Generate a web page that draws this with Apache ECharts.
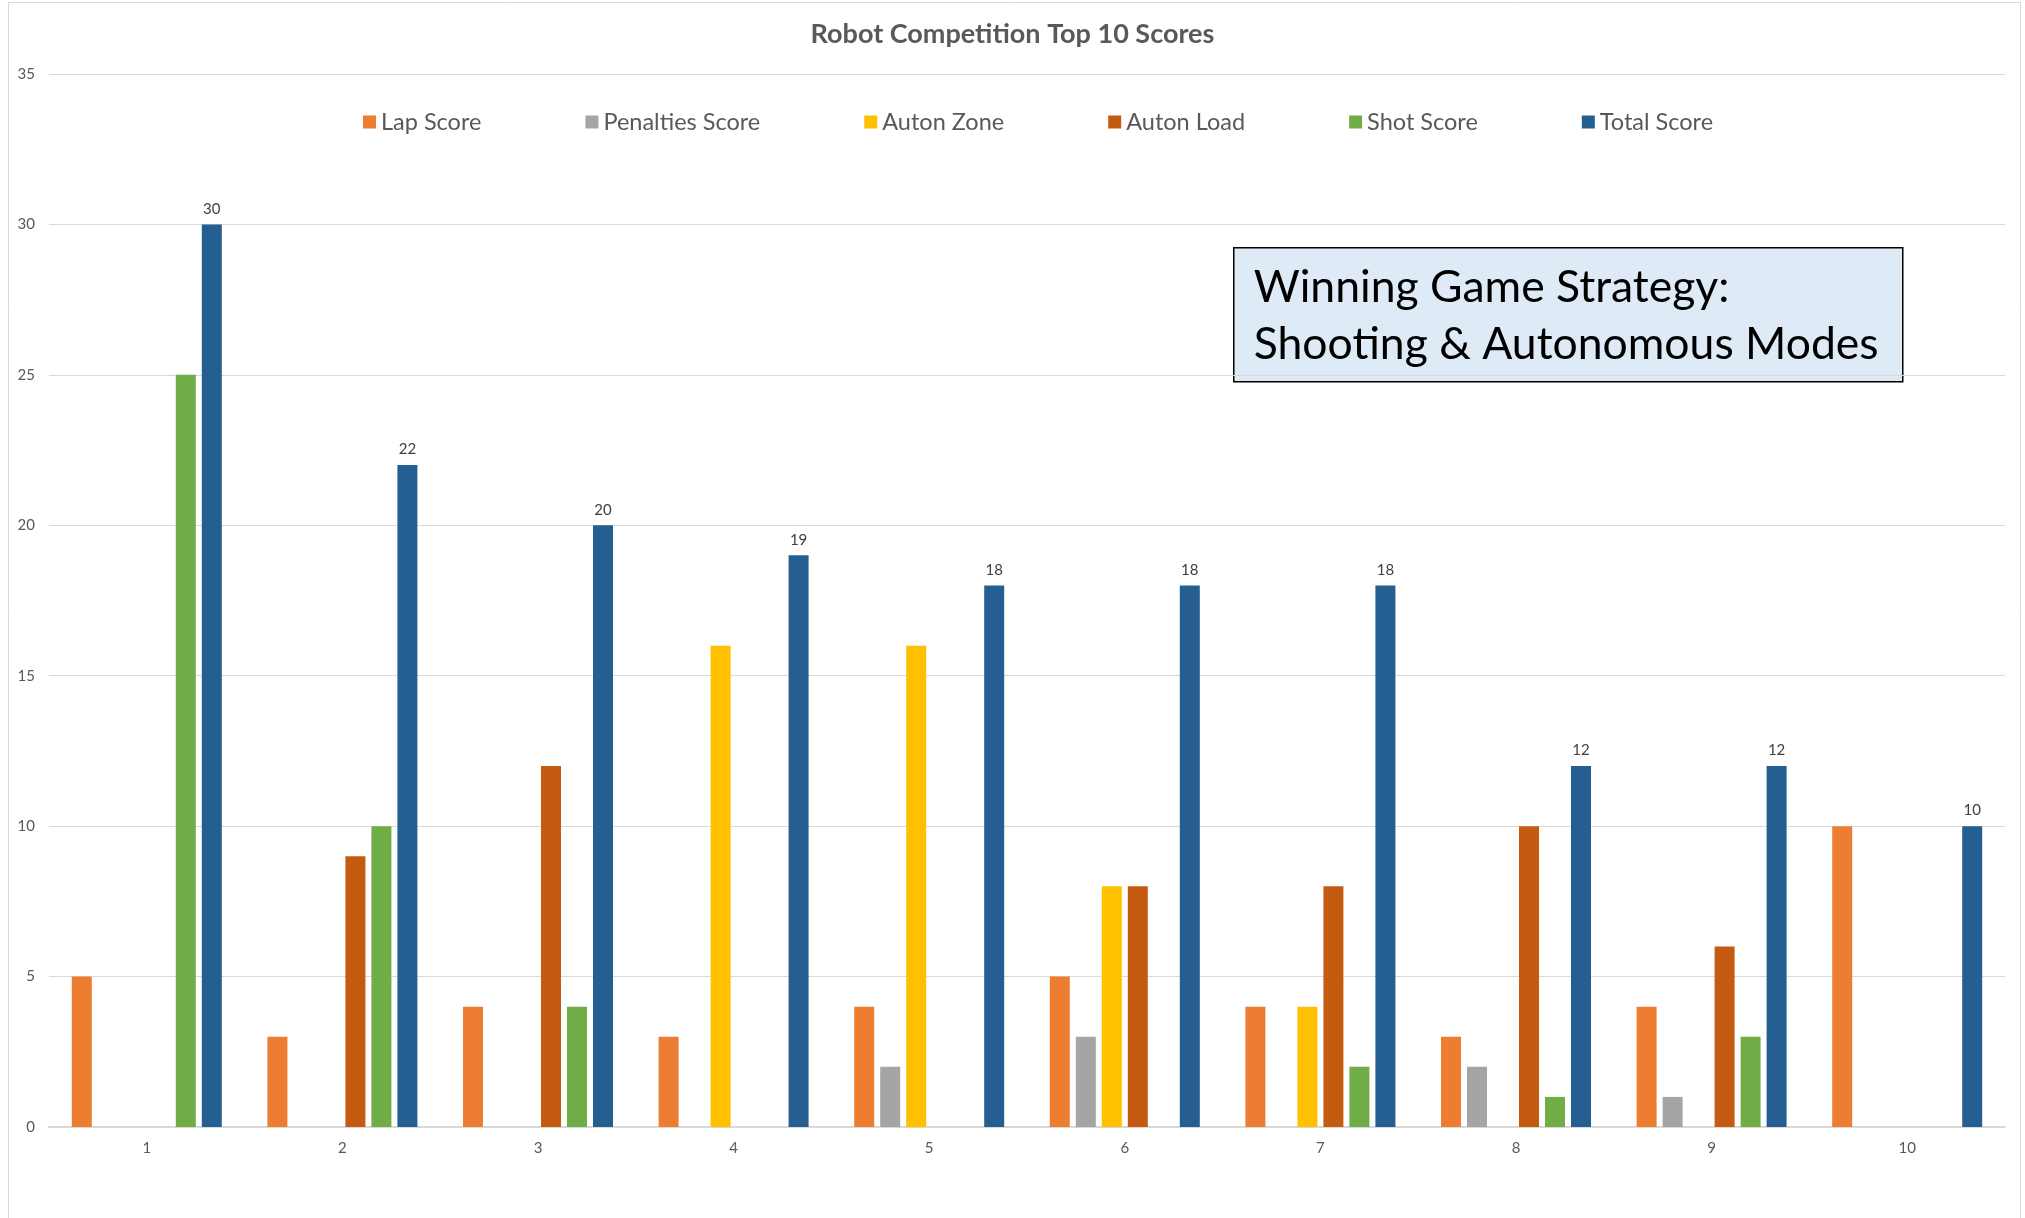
<!DOCTYPE html>
<html>
<head>
<meta charset="utf-8">
<script src="https://cdn.jsdelivr.net/npm/echarts@6/dist/echarts.min.js"></script>
<style>
  html, body { margin: 0; padding: 0; background: #ffffff; }
  #chart { width: 2025px; height: 1218px; }
</style>
</head>
<body>
<div id="chart"></div>
<script>
// ---- Data ----
const categories = ['1', '2', '3', '4', '5', '6', '7', '8', '9', '10'];
const seriesNames = ['Lap Score', 'Penalties Score', 'Auton Zone', 'Auton Load', 'Shot Score', 'Total Score'];
const lapScore       = [5, 3, 4, 3, 4, 5, 4, 3, 4, 10];
const penaltiesScore = [0, 0, 0, 0, 2, 3, 0, 2, 1, 0];
const autonZone      = [0, 0, 0, 16, 16, 8, 4, 0, 0, 0];
const autonLoad      = [0, 9, 12, 0, 0, 8, 8, 10, 6, 0];
const shotScore      = [25, 10, 4, 0, 0, 0, 2, 1, 3, 0];
const totalScore     = [30, 22, 20, 19, 18, 18, 18, 12, 12, 10];
const yTicks = [0, 5, 10, 15, 20, 25, 30, 35];
const titleText = 'Robot Competition Top 10 Scores';
const noteLines = ['Winning Game Strategy:', 'Shooting & Autonomous Modes'];

const colors = ['#ED7D31', '#A5A5A5', '#FFC000', '#C55A11', '#70AD47', '#255E91'];
const values = [lapScore, penaltiesScore, autonZone, autonLoad, shotScore, totalScore];
const FONT = 'Lato, "Open Sans", sans-serif';

const chart = echarts.init(document.getElementById('chart'), null, { renderer: 'canvas' });

const series = seriesNames.map((name, i) => ({
  name: name,
  type: 'bar',
  data: values[i].map(v => (v === 0 ? null : v)),
  barWidth: 20,
  barGap: '30%',
  itemStyle: { color: colors[i] },
  label: i === 5 ? {
    show: true, position: 'top', distance: 8,
    fontFamily: FONT, fontSize: 15, color: '#404040'
  } : { show: false },
  emphasis: { disabled: true }
}));

chart.setOption({
  animation: false,
  backgroundColor: '#ffffff',
  title: {
    text: titleText,
    left: 'center',
    top: 16,
    textStyle: { fontFamily: FONT, fontSize: 27, fontWeight: 'bold', color: '#595959' }
  },
  legend: {
    data: seriesNames,
    left: 358,
    top: 105,
    itemWidth: 13,
    itemHeight: 13,
    itemGap: 104,
    icon: 'rect',
    textStyle: { fontFamily: FONT, fontSize: 23.5, color: '#595959' }
  },
  grid: { left: 49, right: 20, top: 74, bottom: 91 },
  xAxis: {
    type: 'category',
    data: categories,
    axisTick: { show: false },
    axisLine: { lineStyle: { color: '#D9D9D9', width: 2 } },
    axisLabel: { fontFamily: FONT, fontSize: 15, color: '#595959', margin: 14 }
  },
  yAxis: {
    type: 'value',
    min: yTicks[0],
    max: yTicks[yTicks.length - 1],
    interval: 5,
    axisLine: { show: false },
    axisTick: { show: false },
    splitLine: { lineStyle: { color: '#D9D9D9', width: 1 } },
    axisLabel: { fontFamily: FONT, fontSize: 15, color: '#595959', margin: 14 }
  },
  graphic: [
    {
      type: 'rect',
      shape: { x: 8.5, y: 2.5, width: 2012, height: 1240 },
      style: { fill: 'none', stroke: '#D9D9D9', lineWidth: 1 },
      silent: true, z: -1
    },
    {
      type: 'group',
      left: 1233, top: 247,
      children: [
        {
          type: 'rect',
          shape: { x: 0, y: 0, width: 669, height: 134 },
          style: { fill: '#DEEBF7', stroke: '#000000', lineWidth: 1.5 }
        },
        {
          type: 'text',
          x: 20, y: 40,
          style: { text: noteLines[0], fontFamily: FONT, fontSize: 44.5, fill: '#000000', verticalAlign: 'middle' }
        },
        {
          type: 'text',
          x: 20, y: 97,
          style: { text: noteLines[1], fontFamily: FONT, fontSize: 44.5, fill: '#000000', verticalAlign: 'middle' }
        }
      ]
    }
  ],
  series: series
});
</script>
</body>
</html>
